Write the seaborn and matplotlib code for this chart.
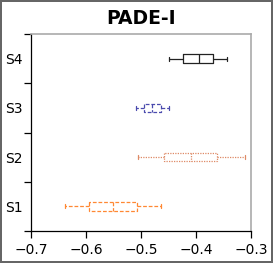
import numpy as np
import pandas as pd
import matplotlib
matplotlib.use("Agg")
import matplotlib.pyplot as plt
import seaborn as sns

sns.set_style("ticks")
plt.rcParams['font.family'] = ['DejaVu Sans']
plt.rcParams['text.color'] = 'black'
plt.rcParams['xtick.color'] = 'black'
plt.rcParams['ytick.color'] = 'black'

# five-number summaries: low whisker, Q1, median, Q3, high whisker
labels = ["S4", "S3", "S2", "S1"]
s4 = [-0.449, -0.423, -0.395, -0.370, -0.344]
s3 = [-0.509, -0.4945, -0.480, -0.464, -0.450]
s2 = [-0.505, -0.458, -0.4085, -0.361, -0.311]
s1 = [-0.638, -0.594, -0.551, -0.508, -0.464]

series = dict(zip(labels, [s4, s3, s2, s1]))
styles = {
    "S4": ("#222222", "-"),
    "S3": ("#4a4aae", (0, (3, 1.5))),
    "S2": ("#de8a66", (0, (1, 1))),
    "S1": ("#ff8833", (0, (3, 1.5))),
}

fig = plt.figure(figsize=(2.73, 2.63), dpi=100)
fig.patch.set_edgecolor("#666666")
fig.patch.set_linewidth(1.5)
ax = fig.add_axes([31 / 273, 32 / 263, 220 / 273, 197 / 263])

for lab in labels:
    df = pd.DataFrame({"val": series[lab], "name": lab})
    col, ls = styles[lab]
    props = dict(color=col, linestyle=ls, linewidth=0.9)
    sns.boxplot(data=df, x="val", y="name", order=labels, orient="h",
                whis=(0, 100), fill=False, width=0.17, color=col,
                linecolor=col, linewidth=0.9,
                boxprops=props, whiskerprops=props,
                capprops=dict(color=col, linewidth=0.9),
                medianprops=dict(color=col, linestyle=ls, linewidth=0.9),
                ax=ax)

ax.set_xlim(-0.7, -0.3)
ax.set_ylim(3.5, -0.5)
ax.set_xticks([-0.7, -0.6, -0.5, -0.4, -0.3])
ax.tick_params(axis="x", length=5, width=0.9, labelsize=10)
ax.tick_params(axis="y", which="major", length=0, labelsize=10, pad=6)
ax.set_yticks([-0.5, 0.5, 1.5, 2.5, 3.5], minor=True)
ax.tick_params(axis="y", which="minor", length=5, width=0.9)
ax.set_xlabel("")
ax.set_ylabel("")
ax.set_title("PADE-I", fontsize=13.5, fontweight="bold", pad=7, color="black")

for side in ["top", "right"]:
    ax.spines[side].set_visible(True)
    ax.spines[side].set_color("#aaaaaa")
    ax.spines[side].set_linewidth(1.2)
for side in ["left", "bottom"]:
    ax.spines[side].set_color("black")
    ax.spines[side].set_linewidth(0.9)

fig.savefig("out.png", dpi=100)
